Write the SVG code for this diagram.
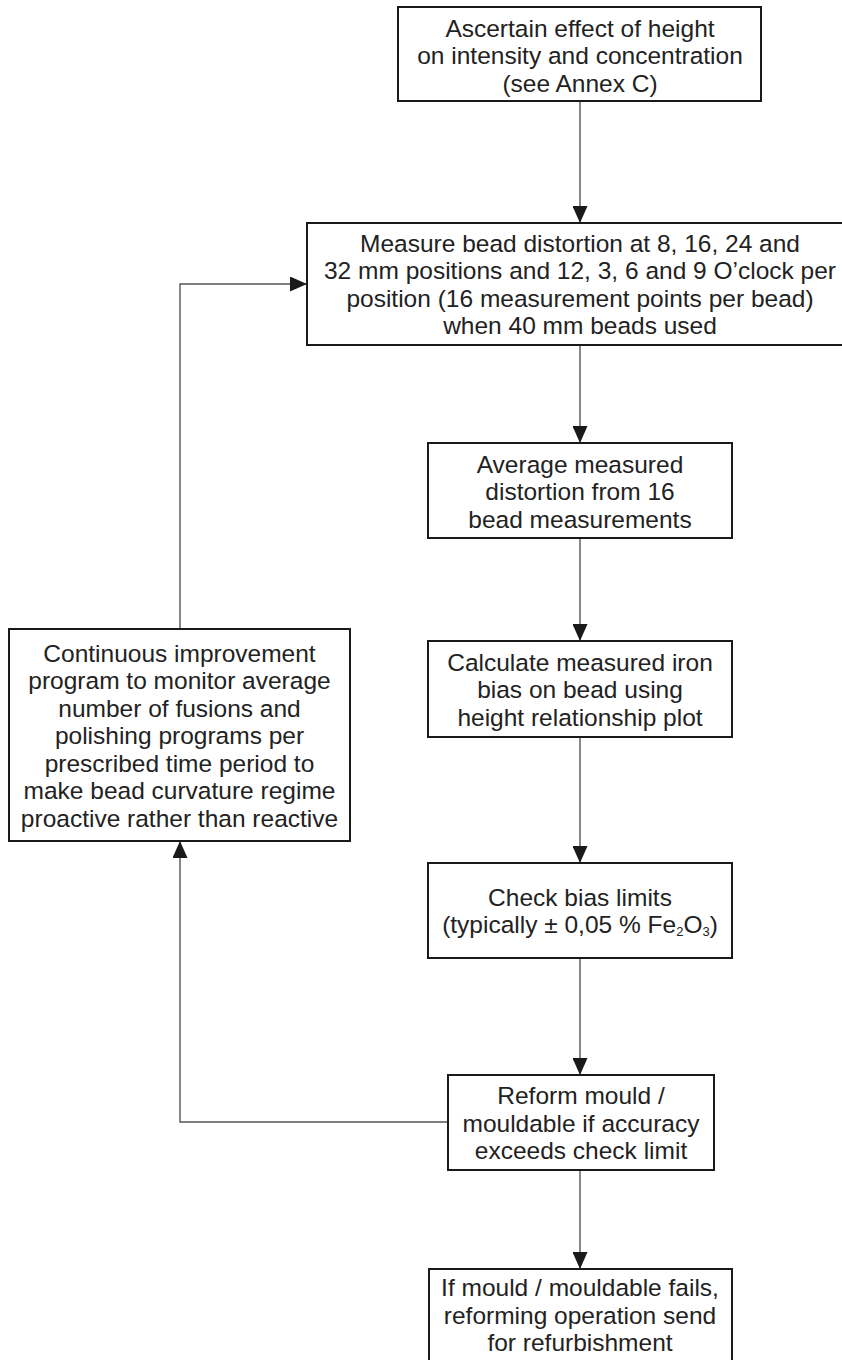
<svg xmlns="http://www.w3.org/2000/svg" width="842" height="1360" viewBox="0 0 842 1360">
<defs>
<marker id="arr" viewBox="0 0 17 15" markerWidth="17" markerHeight="15" refX="17" refY="7.5" orient="auto" markerUnits="userSpaceOnUse">
<path d="M0,0 L17,7.5 L0,15 Z" fill="#1a1a1a"/>
</marker>
<style>
.box{fill:#fff;stroke:#1a1a1a;stroke-width:2}
.t{font-family:"Liberation Sans",Arial,sans-serif;font-size:24.5px;fill:#222;text-anchor:middle}
.c{fill:none;stroke:#555;stroke-width:1.4}
.sub{font-size:13px}
</style>
</defs>
<rect width="842" height="1360" fill="#fff"/>
<g id="connectors">
<path class="c" d="M580,101 V223" marker-end="url(#arr)"/>
<path class="c" d="M580,345 V443" marker-end="url(#arr)"/>
<path class="c" d="M580,538 V641" marker-end="url(#arr)"/>
<path class="c" d="M580,737 V863" marker-end="url(#arr)"/>
<path class="c" d="M580,958 V1075" marker-end="url(#arr)"/>
<path class="c" d="M580,1170 V1269" marker-end="url(#arr)"/>
<path class="c" d="M448,1122 H180 V841" marker-end="url(#arr)"/>
<path class="c" d="M180,629 V284 H307" marker-end="url(#arr)"/>
</g>
<g id="n1">
<rect class="box" x="398" y="7" width="363" height="94"/>
<text class="t" x="580" y="36.5">Ascertain effect of height</text>
<text class="t" x="580" y="64">on intensity and concentration</text>
<text class="t" x="580" y="91.5">(see Annex C)</text>
</g>
<g id="n2">
<rect class="box" x="307" y="223" width="546" height="122"/>
<text class="t" x="580" y="251.5">Measure bead distortion at 8, 16, 24 and</text>
<text class="t" x="580" y="279">32 mm positions and 12, 3, 6 and 9 O’clock per</text>
<text class="t" x="580" y="306.5">position (16 measurement points per bead)</text>
<text class="t" x="580" y="334">when 40 mm beads used</text>
</g>
<g id="n3">
<rect class="box" x="428" y="443" width="304" height="95"/>
<text class="t" x="580" y="472.5">Average measured</text>
<text class="t" x="580" y="500">distortion from 16</text>
<text class="t" x="580" y="527.5">bead measurements</text>
</g>
<g id="n4">
<rect class="box" x="428" y="641" width="304" height="96"/>
<text class="t" x="580" y="670.5">Calculate measured iron</text>
<text class="t" x="580" y="698">bias on bead using</text>
<text class="t" x="580" y="725.5">height relationship plot</text>
</g>
<g id="n5">
<rect class="box" x="428" y="863" width="304" height="95"/>
<text class="t" x="580" y="905.5">Check bias limits</text>
<text class="t" x="580" y="933">(typically ± 0,05 % Fe<tspan class="sub" dy="3">2</tspan><tspan dy="-3">O</tspan><tspan class="sub" dy="3">3</tspan><tspan dy="-3">)</tspan></text>
</g>
<g id="n6">
<rect class="box" x="448" y="1075" width="266" height="95"/>
<text class="t" x="581" y="1104">Reform mould /</text>
<text class="t" x="581" y="1131.5">mouldable if accuracy</text>
<text class="t" x="581" y="1159">exceeds check limit</text>
</g>
<g id="n7">
<rect class="box" x="429" y="1269" width="303" height="95"/>
<text class="t" x="580" y="1296">If mould / mouldable fails,</text>
<text class="t" x="580" y="1323.5">reforming operation send</text>
<text class="t" x="580" y="1351">for refurbishment</text>
</g>
<g id="n8">
<rect class="box" x="9" y="629" width="341" height="212"/>
<text class="t" x="179.5" y="661.5">Continuous improvement</text>
<text class="t" x="179.5" y="689">program to monitor average</text>
<text class="t" x="179.5" y="716.5">number of fusions and</text>
<text class="t" x="179.5" y="744">polishing programs per</text>
<text class="t" x="179.5" y="771.5">prescribed time period to</text>
<text class="t" x="179.5" y="799">make bead curvature regime</text>
<text class="t" x="179.5" y="826.5">proactive rather than reactive</text>
</g>
</svg>
